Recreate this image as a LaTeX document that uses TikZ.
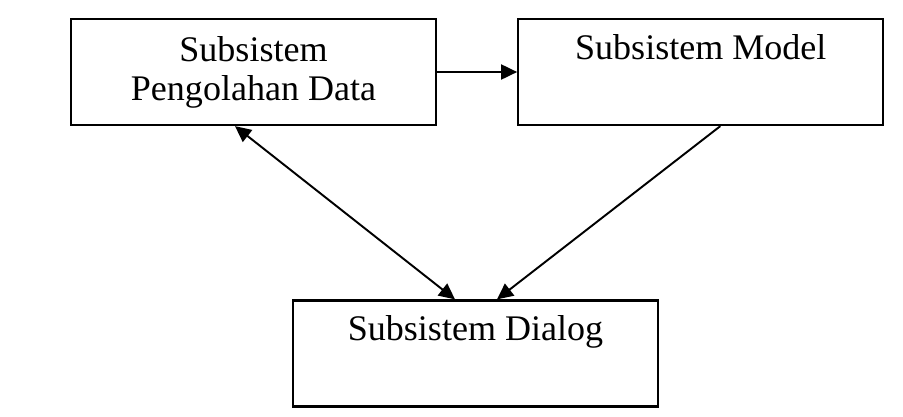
\documentclass[tikz,border=0pt]{standalone}
\usepackage{fontspec}
\setmainfont{Liberation Serif}
\usetikzlibrary{arrows.meta, positioning}
\tikzstyle{every picture} = [node distance=1.6cm]
\tikzstyle{subsys} = [draw, line width=1.3pt, minimum width=7.3cm, minimum height=2.12cm, align=center, font=\fontsize{20.5}{22.2}\selectfont]
\tikzstyle{link} = [line width=1.1pt, -{Triangle[length=0.32cm, width=0.3cm]}]
\tikzstyle{both link} = [line width=1.1pt, {Triangle[length=0.32cm, width=0.3cm]}-{Triangle[length=0.32cm, width=0.3cm]}]

\begin{document}
\begin{tikzpicture}
            \useasboundingbox (0,0) rectangle (18.06,-8.34);
            \node (sub data) at(5.07, -1.44) [subsys] {Subsistem\\Pengolahan Data};
            \node (sub model) [subsys, right=of sub data] {Subsistem Model\\\strut};
            \node (sub dialog) at(9.51, -7.07) [subsys] {Subsistem Dialog\\\strut};

            \path (sub data) edge[link] (sub model)
                  ([xshift=-0.37cm]sub data.south) edge[both link] ([xshift=-0.41cm]sub dialog.north)
                  ([xshift=0.39cm]sub model.south) edge[link] ([xshift=0.43cm]sub dialog.north);
        \end{tikzpicture}
\end{document}
